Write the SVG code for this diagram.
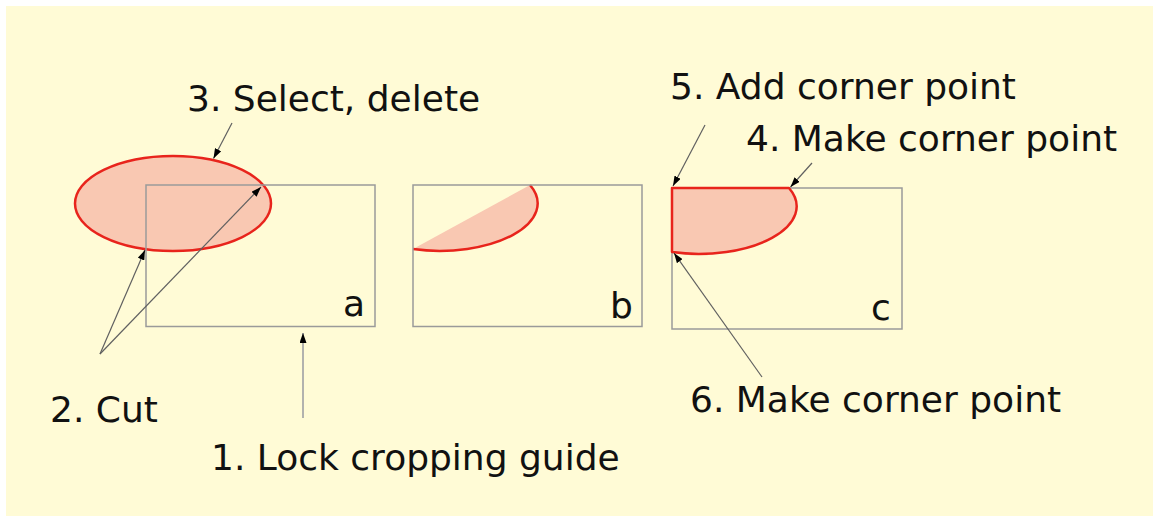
<svg xmlns="http://www.w3.org/2000/svg" width="1153" height="516" viewBox="0 0 1153 516">
<defs>
<style>
.bg{fill:#FFFBD6}
.frame{fill:none;stroke:#9a9a9a;stroke-width:1.5}
.shape{fill:#F9C8B2;stroke:none}
.red{fill:none;stroke:#E8241C;stroke-width:2.5;stroke-linejoin:round}
.lbl{font-family:"DejaVu Sans",Verdana,sans-serif;font-size:36px;fill:#111}
.arr{stroke:#606060;stroke-width:1.2;fill:none;marker-end:url(#ah)}
.arr1{stroke:#aaaaaa;stroke-width:1.8;fill:none;marker-end:url(#ah)}
</style>
<marker id="ah" viewBox="0 0 10 7" refX="10" refY="3.5" markerWidth="10" markerHeight="7" markerUnits="userSpaceOnUse" orient="auto">
<path d="M0,0 L10,3.5 L0,7 z" fill="#000"/>
</marker>
</defs>
<rect x="0" y="0" width="1153" height="516" fill="#fff"/>
<rect class="bg" x="6" y="6" width="1147" height="510"/>

<g id="frame-a">
<ellipse cx="173" cy="203.5" rx="98" ry="47.5" fill="#F9C8B2" stroke="#E8241C" stroke-width="2.5"/>
<rect class="frame" x="146" y="185" width="229" height="141.5"/>
<text class="lbl" x="343" y="316">a</text>
</g>

<g id="frame-b">
<path class="shape" d="M413,249.1 A98,47.5 0 0 0 530,185 Z"/>
<path class="red" d="M413,249.1 A98,47.5 0 0 0 530,185"/>
<rect class="frame" x="413" y="185" width="229" height="141.5"/>
<text class="lbl" x="610" y="318">b</text>
</g>

<g id="frame-c">
<rect class="frame" x="672" y="188" width="230" height="141"/>
<path class="shape" d="M672,188 L789,188 A98,47.5 0 0 1 672,252.1 Z"/>
<path class="red" d="M672,188 L789,188 A98,47.5 0 0 1 672,252.1 Z"/>
<text class="lbl" x="871" y="320">c</text>
</g>

<g id="label-1"><text class="lbl" x="211" y="470">1. Lock cropping guide</text></g>
<g id="label-2"><text class="lbl" x="50" y="422">2. Cut</text></g>
<g id="label-3"><text class="lbl" x="187" y="111">3. Select, delete</text></g>
<g id="label-4"><text class="lbl" x="746" y="151">4. Make corner point</text></g>
<g id="label-5"><text class="lbl" x="670" y="99">5. Add corner point</text></g>
<g id="label-6"><text class="lbl" x="690" y="412">6. Make corner point</text></g>

<g id="connectors">
<line class="arr1" x1="303" y1="418" x2="303" y2="333"/>
<line class="arr" x1="100" y1="354" x2="145" y2="250"/>
<line class="arr" x1="100" y1="354" x2="261" y2="187"/>
<line class="arr" x1="232" y1="123" x2="213.5" y2="158.5"/>
<line class="arr" x1="812" y1="163" x2="790.5" y2="187"/>
<line class="arr" x1="705" y1="125" x2="673" y2="186"/>
<line class="arr" x1="762" y1="377" x2="674" y2="253"/>
</g>
</svg>
